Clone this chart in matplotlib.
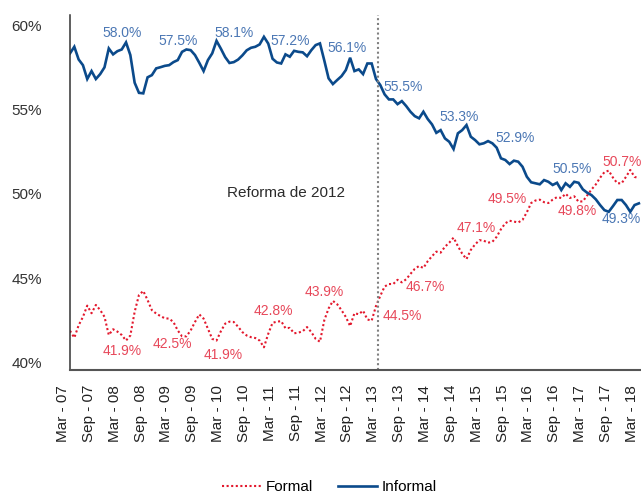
import matplotlib
matplotlib.use('Agg')
import matplotlib.pyplot as plt
import numpy as np

plt.rcParams['font.family'] = ['Liberation Sans', 'DejaVu Sans']

# monthly shares, Mar-07 .. Mar-18
informal = [
    58.32, 58.71, 57.96, 57.62, 56.80, 57.27, 56.80, 57.09, 57.49, 58.61,
    58.26, 58.45, 58.55, 58.97, 58.22, 56.58, 55.98, 55.95, 56.90, 57.03,
    57.43, 57.50, 57.58, 57.62, 57.80, 57.92, 58.41, 58.55, 58.51, 58.22,
    57.76, 57.27, 57.92, 58.32, 59.06, 58.60, 58.10, 57.75, 57.80, 57.95,
    58.20, 58.50, 58.65, 58.71, 58.85, 59.30, 58.90, 58.00, 57.78, 57.72,
    58.26, 58.12, 58.47, 58.41, 58.38, 58.15, 58.51, 58.81, 58.91, 57.90,
    56.84, 56.50, 56.74, 56.97, 57.33, 58.06, 57.27, 57.37, 57.09, 57.72,
    57.72, 56.80, 56.44, 55.89, 55.59, 55.59, 55.31, 55.49, 55.20, 54.86,
    54.60, 54.47, 54.86, 54.43, 54.11, 53.61, 53.77, 53.28, 53.08, 52.65,
    53.58, 53.77, 54.07, 53.38, 53.18, 52.93, 52.99, 53.12, 52.99, 52.73,
    52.10, 52.00, 51.76, 51.96, 51.90, 51.60, 51.01, 50.68, 50.62, 50.56,
    50.81, 50.71, 50.52, 50.65, 50.22, 50.62, 50.41, 50.71, 50.65, 50.26,
    50.06, 49.92, 49.67, 49.33, 49.03, 48.93, 49.27, 49.63, 49.63, 49.33,
    48.93, 49.33, 49.43]

formal = [
    41.88, 41.47, 42.20, 42.70, 43.37, 42.92, 43.41, 43.11, 42.71, 41.63,
    41.97, 41.83, 41.63, 41.30, 41.60, 43.00, 44.00, 44.24, 43.70, 43.10,
    42.90, 42.75, 42.62, 42.60, 42.40, 41.90, 41.55, 41.55, 41.90, 42.40,
    42.85, 42.60, 42.00, 41.40, 41.30, 41.85, 42.30, 42.42, 42.40, 42.12,
    41.80, 41.60, 41.50, 41.45, 41.30, 40.90, 41.70, 42.35, 42.42, 42.45,
    42.03, 42.05, 41.73, 41.77, 41.85, 42.10, 41.80, 41.40, 41.23, 42.50,
    43.20, 43.65, 43.45, 43.10, 42.70, 42.16, 42.92, 42.86, 43.07, 42.55,
    42.48, 43.35, 43.95, 44.50, 44.65, 44.65, 44.90, 44.75, 44.93, 45.25,
    45.55, 45.72, 45.60, 46.00, 46.30, 46.57, 46.51, 46.86, 47.10, 47.40,
    46.90, 46.45, 46.13, 46.67, 47.00, 47.25, 47.22, 47.10, 47.15, 47.45,
    47.90, 48.25, 48.40, 48.35, 48.30, 48.45, 48.90, 49.45, 49.60, 49.65,
    49.50, 49.45, 49.65, 49.80, 49.75, 50.00, 49.75, 49.85, 49.53, 49.55,
    49.90, 50.25, 50.55, 50.95, 51.28, 51.37, 50.95, 50.62, 50.62, 51.00,
    51.41, 51.00, 50.92]

years = range(7, 19)
tick_labels = []
for yy in years:
    tick_labels.append('Mar - %02d' % yy)
    if yy < 18:
        tick_labels.append('Sep - %02d' % yy)

# data labels as printed on the chart
informal_labels = ['58.0%', '57.5%', '58.1%', '57.2%', '56.1%', '55.5%',
                   '53.3%', '52.9%', '50.5%', '49.3%']
formal_labels = ['41.9%', '42.5%', '41.9%', '42.8%', '43.9%', '44.5%',
                 '46.7%', '47.1%', '49.5%', '49.8%', '50.7%']

# where the labels sit (month index, value axis)
informal_label_pos = [(12.0, 59.53), (25.1, 59.05), (38.1, 59.51), (51.2, 59.05),
                      (64.2, 58.62), (77.2, 56.30), (90.3, 54.54), (103.3, 53.30),
                      (116.4, 51.44), (128.0, 48.49)]
formal_label_pos = [(12.1, 40.66), (23.8, 41.11), (35.5, 40.46), (47.3, 43.06),
                    (59.0, 44.18), (77.0, 42.77), (82.4, 44.49), (94.2, 47.95),
                    (101.4, 49.68), (117.8, 48.99), (128.0, 51.90)]

blue = '#0b4a8b'
red = '#e3182d'
blue_lbl = '#4b77b4'
red_lbl = '#e7485a'

fig = plt.figure(figsize=(6.41, 4.94), dpi=100)
ax = fig.add_axes([70 / 641, 124.5 / 494, 577.5 / 641, 354.5 / 494])

x = np.arange(len(informal))
ax.plot(x, formal, color=red, lw=1.5, ls=(0, (1, 1.2)), label='Formal')
ax.plot(x, informal, color=blue, lw=1.9, label='Informal', solid_joinstyle='miter')

ax.axvline(71.4, color='#808080', lw=1.5, ls=(0, (1, 1.3)))
ax.text(50.1, 50.07, 'Reforma de 2012', fontsize=11, color='#2b2b2b',
        ha='center', va='center')

for txt, (px, py) in zip(informal_labels, informal_label_pos):
    ax.text(px, py, txt, fontsize=10, color=blue_lbl, ha='center', va='center')
for txt, (px, py) in zip(formal_labels, formal_label_pos):
    ax.text(px, py, txt, fontsize=10, color=red_lbl, ha='center', va='center')

ax.set_xlim(0, 134)
ax.set_ylim(39.585, 60.593)
ax.set_yticks([40, 45, 50, 55, 60])
ax.set_yticklabels(['40%', '45%', '50%', '55%', '60%'])
ax.set_xticks(np.arange(0, 133, 6))
ax.set_xticklabels(tick_labels, rotation=90, ha='right')
ax.tick_params(axis='y', length=0, pad=20, labelsize=11, labelcolor='#333333')
ax.tick_params(axis='x', length=0, pad=11, labelsize=11, labelcolor='#222222')

for s in ['top', 'right']:
    ax.spines[s].set_visible(False)
ax.spines['left'].set_color('#333333')
ax.spines['left'].set_linewidth(1.1)
ax.spines['bottom'].set_color('#555555')
ax.spines['bottom'].set_linewidth(1.5)

fig.legend(loc='center', bbox_to_anchor=(0.514, 0.014), ncol=2, frameon=False,
           fontsize=11, handlelength=2.6, handletextpad=0.3, columnspacing=1.6)

fig.savefig('out.png', dpi=100)
